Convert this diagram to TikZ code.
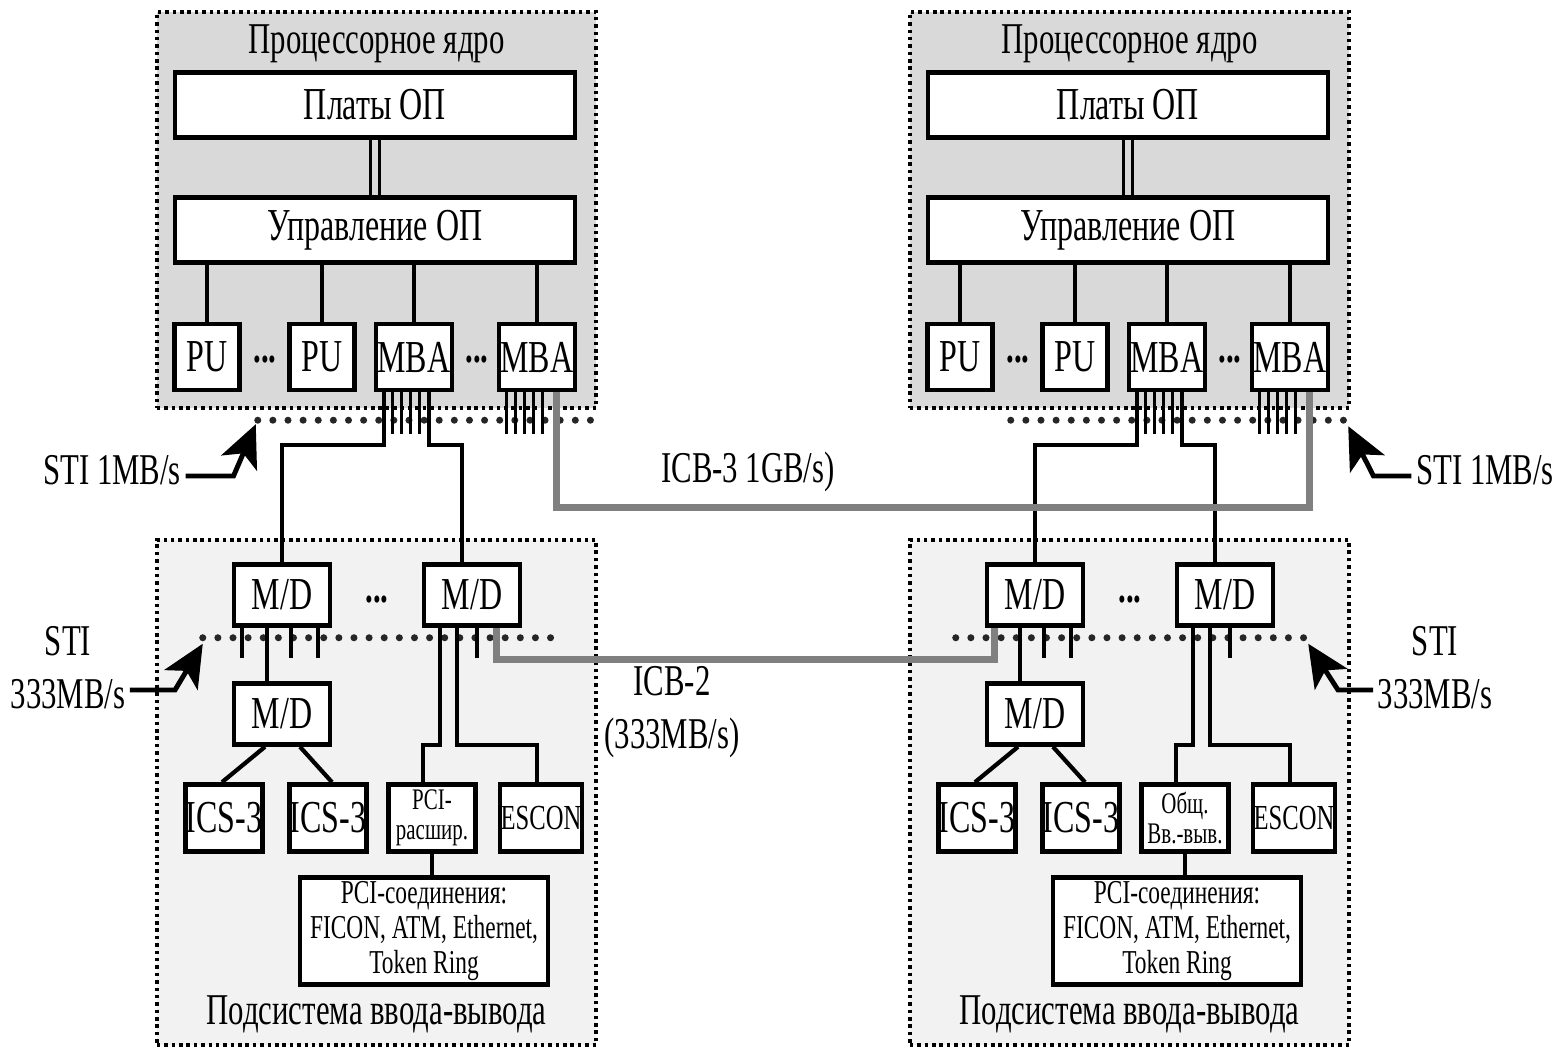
\documentclass[tikz,border=0pt]{standalone}
\usepackage{fontspec}
\setmainfont{Liberation Serif}[FakeStretch=0.7]
\usetikzlibrary{arrows.meta,positioning}
\begin{document}
\begin{tikzpicture}[x=0.01cm,y=-0.01cm,
    every node/.style={inner sep=0pt},
    corebox/.style={draw, fill=gray!30, line width=1.2pt, dash pattern=on 1pt off 1.1pt, minimum width=4.39cm, minimum height=3.96cm},
    iobox/.style={corebox, fill=gray!10, minimum height=5.05cm},
    blk/.style={draw, fill=white, line width=1.3pt, align=center, font=\fontsize{13}{14}\selectfont},
    wideblk/.style={blk, minimum width=4cm, minimum height=0.65cm},
    pu/.style={blk, minimum width=0.65cm, minimum height=0.66cm},
    mba/.style={blk, minimum width=0.76cm, minimum height=0.66cm},
    md/.style={blk, minimum width=0.96cm, minimum height=0.61cm},
    dev/.style={blk, minimum width=0.76cm, minimum height=0.67cm},
    lbl/.style={font=\fontsize{12.5}{15}\selectfont, align=center},
    wire/.style={line width=1.2pt},
    bus/.style={black!85, line width=2pt, line cap=round, dash pattern=on 0pt off 4.3pt},
    icb/.style={black!50, line width=2pt},
    stiarrow/.style={line width=1.4pt, -{Stealth[length=12pt,width=11pt,inset=3pt]}}
  ]
  \useasboundingbox (0,0) rectangle (1568,1048);
  \foreach \side/\dx/\pcitext in {L/0/{PCI-\\расшир.}, R/753/{Общ.\\Вв.-выв.}} {
  \begin{scope}[shift={(\dx,0)}]
    \node[corebox] (core\side) at (376.5,210) {};
    \draw[bus] ([shift={(103,10)}]core\side.south west) coordinate (busAw\side) -- ([shift={(-3,10)}]core\side.south east) coordinate (busAe\side);
    \node[lbl, below=0.14cm of core\side.north] (coret\side) {Процессорное ядро};
    \node[wideblk] (platy\side) at (375,105) {Платы ОП};
    \node[wideblk] (upr\side) at (375,230) {Управление ОП};
    \node[pu] (puA\side) at (207,357) {PU};
    \node[pu] (puB\side) at (322,357) {PU};
    \node[mba] (mbaA\side) at (414,357) {MBA};
    \node[mba] (mbaB\side) at (537,357) {MBA};
    \node[lbl, font=\bfseries\fontsize{12.5}{15}\selectfont] (dotA\side) at (265,360) {...};
    \node[lbl, font=\bfseries\fontsize{12.5}{15}\selectfont] (dotB\side) at (477,360) {...};
    \draw[line width=0.9pt, double=gray!30, double distance=1.8pt] (platy\side.south) -- (upr\side.north);
    \foreach \u in {puA,puB,mbaA,mbaB}
      \draw[wire] (\u\side.north) -- (\u\side.north |- upr\side.south);

    \node[iobox] (io\side) at (376.5,792.5) {};
    \draw[bus] ([shift={(48,100)}]io\side.north west) coordinate (busBw\side) -- ([shift={(-43,100)}]io\side.north east) coordinate (busBe\side);
    \node[lbl, above=0.14cm of io\side.south] (iot\side) {Подсистема ввода-вывода};
    \node[md] (mdA\side) at (282,595) {M/D};
    \node[md] (mdB\side) at (472,595) {M/D};
    \node[lbl, font=\bfseries\fontsize{12.5}{15}\selectfont] (dotC\side) at (377,600) {...};
    \node[md] (mdC\side) at (282,714) {M/D};
    \node[dev] (icsA\side) at (224,818) {ICS-3};
    \node[dev] (icsB\side) at (328,818) {ICS-3};
    \node[dev, minimum width=0.87cm, font=\fontsize{8.5}{8.5}\selectfont] (pci\side) at (432,818) {\pcitext};
    \node[dev, minimum width=0.82cm, font=\fontsize{10}{11}\selectfont] (escon\side) at (541,818) {ESCON};
    \node[blk, minimum width=2.48cm, minimum height=1.07cm, font=\fontsize{9.5}{10}\selectfont] (conn\side) at (424,931) {PCI-соединения:\\FICON, ATM, Ethernet,\\Token Ring};

    \foreach \t in {10,19,...,55}
      \draw[line width=0.9pt] (mbaA\side.south west) ++(\t,0) -- ++(0,42);
    \foreach \t in {10,19,...,46}
      \draw[line width=0.9pt] (mbaB\side.south west) ++(\t,0) -- ++(0,42);
    \draw[wire] (mbaA\side.south west) ++(10,0) -- ++(0,53) -| (mdA\side.north);
    \draw[wire] (mbaA\side.south west) ++(55,0) -- ++(0,53) -| ([shift={(-10,0)}]mdB\side.north);
    \foreach \t in {10,59,86}
      \draw[wire] ([shift={(\t,0)}]mdA\side.south west) -- ++(0,30);
    \draw[wire] ([shift={(35,0)}]mdA\side.south west) -- ([shift={(35,0)}]mdC\side.north west);
    \draw[wire] ([shift={(55,0)}]mdB\side.south west) -- ++(0,30);
    \draw[wire] ([shift={(18,0)}]mdB\side.south west) -- ++(0,117) -| ([shift={(-9,0)}]pci\side.north);
    \draw[wire] ([shift={(35,0)}]mdB\side.south west) -- ++(0,117) -| ([shift={(-4,0)}]escon\side.north);
    \draw[wire] ([shift={(-17,0)}]mdC\side.south) -- ([shift={(-2,0)}]icsA\side.north);
    \draw[wire] ([shift={(18,0)}]mdC\side.south) -- ([shift={(4,0)}]icsB\side.north);
    \draw[wire] (pci\side.south) -- (pci\side.south |- conn\side.north);
  \end{scope}
  }
  \draw[icb] ([shift={(60,0)}]mbaBL.south west) -- ++(0,115) -| ([shift={(60,0)}]mbaBR.south west);
  \draw[icb] ([shift={(75,0)}]mdBL.south west) -- ++(0,32) -| ([shift={(10,0)}]mdAR.south west);
  \node[lbl] (icb3) at (748,472) {ICB-3 1GB/s)};
  \node[lbl] (icb2) at (672,712) {ICB-2\\(333MB/s)};
  \node[lbl] (stiAL) at (112,470) {STI 1MB/s};
  \node[lbl] (stiAR) at (1485,470) {STI 1MB/s};
  \node[lbl] (stiBL) at (68,668) {STI\\333MB/s};
  \node[lbl] (stiBR) at (1435,668) {STI\\333MB/s};
  \draw[stiarrow] ([shift={(4,6)}]stiAL.east) -- ++(48,0) -- ([shift={(-2,4)}]busAwL);
  \draw[stiarrow] ([shift={(-4,6)}]stiAR.west) -- ++(-38,0) -- ([shift={(0,6)}]busAeR);
  \draw[stiarrow] ([shift={(4,22)}]stiBL.east) -- ++(45,0) -- ([shift={(0,6)}]busBwL);
  \draw[stiarrow] ([shift={(-4,22)}]stiBR.west) -- ++(-35,0) -- ([shift={(0,6)}]busBeR);
\end{tikzpicture}
\end{document}
